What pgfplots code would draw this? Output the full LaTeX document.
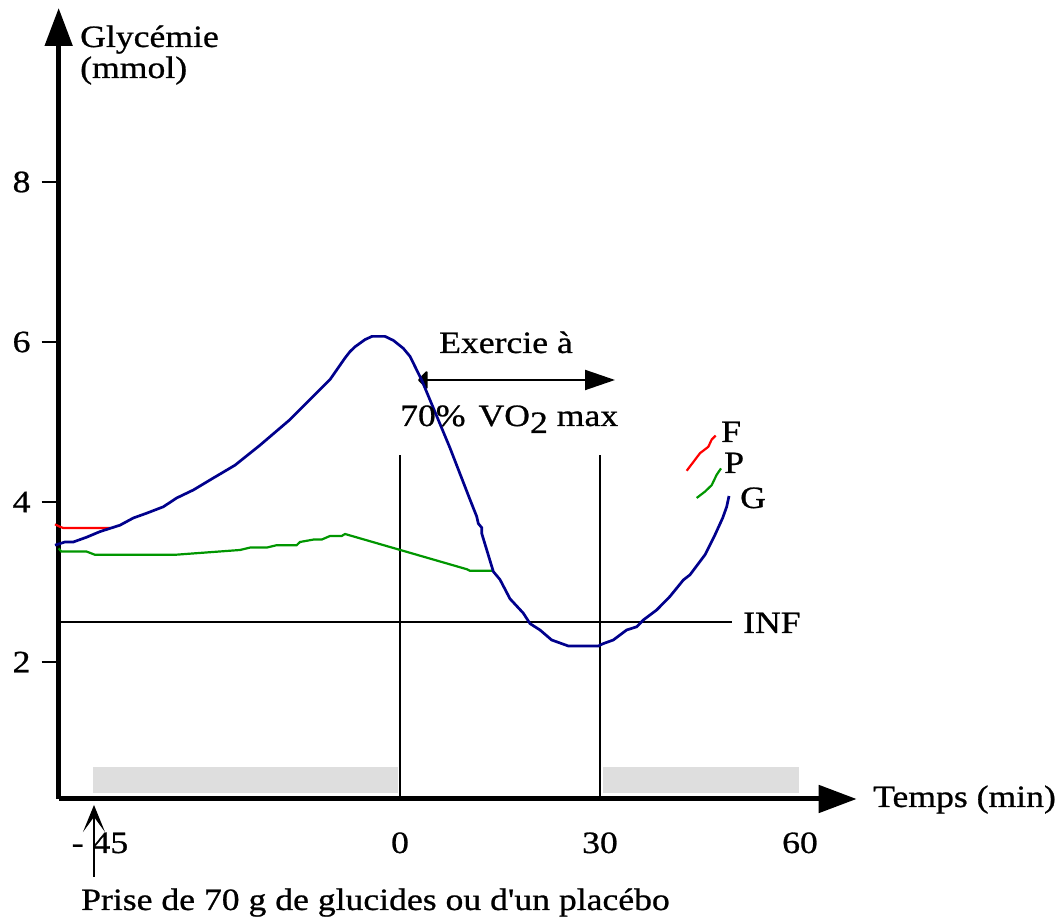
\documentclass[border=0pt]{standalone}
\usepackage{fontspec}
\setmainfont{Liberation Serif}[FakeStretch=1.15, FakeBold=0.8]
\newfontfamily\nolig{Liberation Serif}[FakeStretch=1.15, FakeBold=0.8]
\usepackage{pgfplots}
\pgfplotsset{compat=1.18}
\usetikzlibrary{arrows.meta}
\definecolor{gblue}{RGB}{0,0,140}
\definecolor{gred}{RGB}{255,0,0}
\definecolor{ggreen}{RGB}{0,150,0}
\definecolor{bargray}{RGB}{222,222,222}
\newcommand{\bigf}{\fontsize{31}{37}\selectfont}
\begin{document}
\begin{tikzpicture}
\begin{axis}[
  x=6.6667pt, y=80pt,
  xmin=-51.2, xmax=68.5, ymin=0.2875, ymax=10.175,
  enlargelimits=false,
  axis lines=left,
  axis line style={line width=5pt, -{Triangle[length=38pt,width=27pt]}},
  clip=false,
  xtick={-45,0,30,60}, xticklabels={- 45,0,30,60},
  ytick={2,4,6,8}, yticklabels={2,4,6,8},
  xtick style={draw=none},
  ytick style={line width=2pt, black},
  tick align=outside,
  major tick length=17pt,
  tick label style={font=\bigf},
  xticklabel style={anchor=base, inner sep=0pt, yshift=-37pt},
  yticklabel style={anchor=east, inner sep=0pt, xshift=-11pt},
  /pgf/number format/assume math mode=true,
]
% grey bars
\addplot[fill=bargray, draw=none] coordinates {(-46,0.359) (-0.3,0.359) (-0.3,0.691) (-46,0.691)} -- cycle;
\addplot[fill=bargray, draw=none] coordinates {(30.45,0.359) (59.9,0.359) (59.9,0.691) (30.45,0.691)} -- cycle;
% vertical lines and INF
\addplot[black, line width=2pt] coordinates {(0,0.2875) (0,4.59)};
\addplot[black, line width=2pt] coordinates {(30,0.2875) (30,4.59)};
\addplot[black, line width=2pt] coordinates {(-51.2,2.5) (49.8,2.5)};
% exercise arrow
\addplot[black, line width=2pt, {Triangle[length=10pt,width=20pt,round]}-{Triangle[length=30pt,width=20pt]}] coordinates {(2.7,5.525) (32.25,5.525)};
% intake arrow
\addplot[black, line width=2.2pt, -{Stealth[length=27pt,width=22pt,inset=15pt]}] coordinates {(-45.9,-0.6875) (-45.9,0.2125)};
% green
\addplot[ggreen, line width=2.2pt] coordinates {
(-51.2,3.42) (-50.8,3.38) (-47,3.38) (-45.75,3.34) (-33.75,3.34) (-24,3.40) (-22.5,3.43) (-20,3.43) (-18.5,3.46) (-15.5,3.46) (-15,3.5) (-13,3.53) (-11.75,3.53) (-10.5,3.575) (-8.75,3.575) (-8.25,3.6) (10,3.16) (10.5,3.14) (14,3.14)};
\addplot[ggreen, line width=2.2pt] coordinates {
(44.5,4.05) (45.75,4.13) (46.75,4.21) (47.5,4.34) (48.15,4.42)};
% red
\addplot[gred, line width=2.2pt] coordinates {
(-51.75,3.72) (-51,3.69) (-50.5,3.675) (-43.5,3.675)};
\addplot[gred, line width=2.2pt] coordinates {
(43,4.39) (45,4.61) (46.25,4.69) (46.75,4.78) (47.35,4.83)};
% blue
\addplot[gblue, line width=2.7pt] coordinates {
(-51.75,3.46) (-50.25,3.50) (-49,3.50) (-47,3.56) (-45,3.63) (-43.5,3.67) (-42,3.71) (-40,3.80) (-38,3.86) (-35.5,3.94) (-33.5,4.05) (-31,4.15) (-28.5,4.275) (-24.75,4.46) (-21,4.71) (-16.5,5.03) (-13.5,5.28) (-10.5,5.53) (-8.25,5.80) (-7.5,5.88) (-6.75,5.94) (-5.25,6.03) (-4.2,6.07) (-2.25,6.07) (-1,6.02) (0.5,5.92) (1.5,5.82) (3.25,5.525) (7.5,4.675) (10.5,4.03) (11.5,3.82) (11.75,3.73) (12.25,3.68) (12.25,3.61) (14,3.13) (15,3.03) (16.5,2.79) (18.5,2.61) (19.5,2.48) (21,2.4) (22.75,2.275) (25.25,2.2) (29.75,2.2) (30.5,2.23) (32,2.275) (34,2.4) (35.5,2.44) (36.5,2.525) (38.5,2.65) (40.5,2.82) (42.5,3.025) (43.5,3.09) (45.75,3.34) (47.25,3.59) (48.4,3.8) (49,3.94) (49.35,4.075)};
% texts
\node[anchor=base west, inner sep=0pt, font=\bigf] at (axis cs:-48,9.6875) {Glycémie};
\node[anchor=base west, inner sep=0pt, font=\bigf] at (axis cs:-48,9.3) {(mmol)};
\node[anchor=base west, inner sep=0pt, font=\bigf] at (axis cs:70.95,0.1875) {Temps (min)};
\node[anchor=base west, inner sep=0pt, font=\bigf] at (axis cs:5.85,5.8625) {Exercie à};
\node[anchor=base west, inner sep=0pt, font=\bigf] at (axis cs:0,4.95) {70\%\hspace{13pt}VO\raisebox{-7pt}{2} max};
\node[anchor=base west, inner sep=0pt, font=\bigf] at (axis cs:48.15,4.75) {F};
\node[anchor=base west, inner sep=0pt, font=\bigf] at (axis cs:48.6,4.3625) {P};
\node[anchor=base west, inner sep=0pt, font=\bigf] at (axis cs:51,3.925) {G};
\node[anchor=base west, inner sep=0pt, font=\bigf] at (axis cs:51.45,2.3625) {INF};
\node[anchor=base west, inner sep=0pt, font=\bigf\nolig] at (axis cs:-47.85,-1.1) {Prise de 70 g de glucides ou d'un placébo};
% bounding box matching the reference canvas
\path (axis cs:-60,10.275) rectangle (axis cs:99.45,-1.2625);
\end{axis}
\end{tikzpicture}
\end{document}
